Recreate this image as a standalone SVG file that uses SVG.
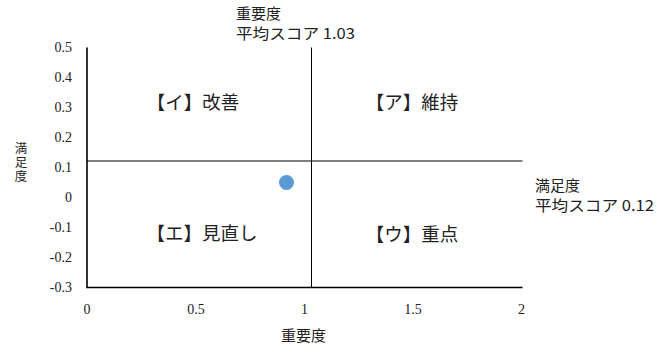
<svg xmlns="http://www.w3.org/2000/svg" width="672" height="351" viewBox="0 0 672 351">
<style>
.tick text{font-family:"Liberation Serif","DejaVu Serif",serif;font-size:14px;fill:#222}
.lbl{font-family:"Noto Sans CJK JP","Noto Sans",sans-serif;font-size:15px;fill:#222}
.vt{font-family:"Noto Sans CJK JP","Noto Sans",sans-serif;font-size:12.5px;fill:#222;writing-mode:vertical-rl;letter-spacing:1.5px}
.q{font-family:"Noto Sans CJK JP","Noto Sans",sans-serif;font-size:18.5px;fill:#222;text-anchor:middle;dominant-baseline:central}
.axis{stroke:#000;stroke-width:1.6;fill:none}
.mid{stroke:#000;stroke-width:1;fill:none}
</style>
<rect width="672" height="351" fill="#fff"/>
<g id="axes">
<path class="axis" d="M87 47.5V287.5H522.5"/>
</g>
<g id="connectors">
<line class="mid" x1="311.5" y1="47.5" x2="311.5" y2="287"/>
<line class="mid" x1="87" y1="161" x2="522.5" y2="161"/>
</g>
<g id="ytick" class="tick" text-anchor="end">
<text x="72" y="52">0.5</text>
<text x="72" y="81.5">0.4</text>
<text x="72" y="111.5">0.3</text>
<text x="72" y="141.5">0.2</text>
<text x="72" y="171.5">0.1</text>
<text x="72" y="202">0</text>
<text x="72" y="232">-0.1</text>
<text x="72" y="262">-0.2</text>
<text x="72" y="292">-0.3</text>
</g>
<g id="xtick" class="tick" text-anchor="middle">
<text x="87" y="313.5">0</text>
<text x="196" y="313.5">0.5</text>
<text x="304.5" y="313.5">1</text>
<text x="413" y="313.5">1.5</text>
<text x="521.5" y="313.5">2</text>
</g>
<g id="xtitle"><text class="lbl" x="303.5" y="341" text-anchor="middle">重要度</text></g>
<g id="ytitle">
<text class="vt" x="21" y="142">満足度</text>
</g>
<g id="imp-avg" class="lbl">
<text x="236" y="19">重要度</text>
<text x="236" y="39" textLength="119" lengthAdjust="spacingAndGlyphs">平均スコア 1.03</text>
</g>
<g id="sat-avg" class="lbl">
<text x="535" y="191">満足度</text>
<text x="535" y="211" textLength="119" lengthAdjust="spacingAndGlyphs">平均スコア 0.12</text>
</g>
<g id="q-i"><text class="q" x="193" y="101">【イ】改善</text></g>
<g id="q-a"><text class="q" x="412" y="101">【ア】維持</text></g>
<g id="q-e"><text class="q" x="202" y="232">【エ】見直し</text></g>
<g id="q-u"><text class="q" x="412" y="233">【ウ】重点</text></g>
<g id="point"><circle cx="286.5" cy="182.5" r="7.5" fill="#5B9BD5"/></g>
</svg>
